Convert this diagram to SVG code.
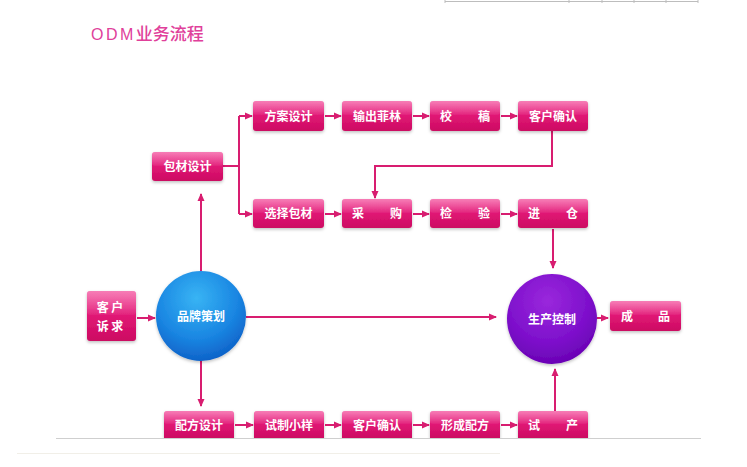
<svg xmlns="http://www.w3.org/2000/svg" width="747" height="467" viewBox="0 0 747 467">
<defs>
<style>
.bx{fill:url(#gBox);filter:url(#sh)}
.hl{fill:url(#gHl)}
.t{font-family:"Noto Sans CJK SC","Liberation Sans",sans-serif;font-size:12px;font-weight:bold;fill:#fff;text-anchor:middle}
.c{fill:none;stroke:#d81d70;stroke-width:2}
.a{marker-end:url(#ar)}
</style>
<linearGradient id="gBox" x1="0" y1="0" x2="0" y2="1">
<stop offset="0" stop-color="#f2378f"/>
<stop offset="0.5" stop-color="#e01674"/>
<stop offset="1" stop-color="#cc0c62"/>
</linearGradient>
<linearGradient id="gHl" x1="0" y1="0" x2="0" y2="1">
<stop offset="0" stop-color="#fff" stop-opacity="0.35"/>
<stop offset="1" stop-color="#fff" stop-opacity="0.05"/>
</linearGradient>
<radialGradient id="gBlue" cx="0.45" cy="0.3" r="0.75">
<stop offset="0" stop-color="#38b4f4"/>
<stop offset="0.6" stop-color="#1a86e2"/>
<stop offset="1" stop-color="#0c5cc4"/>
</radialGradient>
<radialGradient id="gPur" cx="0.45" cy="0.3" r="0.75">
<stop offset="0" stop-color="#9a28dc"/>
<stop offset="0.6" stop-color="#7e10cc"/>
<stop offset="1" stop-color="#6600b0"/>
</radialGradient>
<filter id="sh" x="-20%" y="-20%" width="140%" height="150%">
<feDropShadow dx="0" dy="1.5" stdDeviation="1.5" flood-color="#000" flood-opacity="0.25"/>
</filter>
<marker id="ar" markerWidth="8" markerHeight="8" refX="7" refY="4" orient="auto" markerUnits="userSpaceOnUse">
<path d="M0,0.5 L8,4 L0,7.5 z" fill="#d81d70"/>
</marker>
</defs>
<rect width="747" height="467" fill="#fff"/>
<g id="decor">
<path d="M445,1.5 H698 M445,0 V3 M569,0 V3 M602,0 V3 M634,0 V3 M666,0 V3 M698,0 V3" stroke="#bdbdbd" stroke-width="1" fill="none"/>
<text x="91" y="40" font-family="'Liberation Sans','Noto Sans CJK SC',sans-serif" font-size="16" fill="#e0409a"><tspan letter-spacing="2.5">ODM</tspan><tspan font-family="'Noto Sans CJK SC',sans-serif" font-size="17" font-weight="500">业务流程</tspan></text>
</g>
<g id="connectors">
<path class="c" d="M223,166 H239 M239,116 V214"/>
<path class="c a" d="M239,116 H252"/>
<path class="c a" d="M239,214 H252"/>
<path class="c a" d="M325,116 H341"/>
<path class="c a" d="M413,116 H429"/>
<path class="c a" d="M501,116 H517"/>
<path class="c a" d="M552,131 V166 H375 V198"/>
<path class="c a" d="M325,214 H341"/>
<path class="c a" d="M413,214 H429"/>
<path class="c a" d="M501,214 H517"/>
<path class="c a" d="M553,229 V268"/>
<path class="c a" d="M137,318 H155"/>
<path class="c a" d="M201,271 V194"/>
<path class="c a" d="M201,361 V406"/>
<path class="c a" d="M246,317 H496"/>
<path class="c a" d="M597,318 H608"/>
<path class="c a" d="M235,425 H253"/>
<path class="c a" d="M325,425 H341"/>
<path class="c a" d="M413,425 H429"/>
<path class="c a" d="M501,425 H517"/>
<path class="c a" d="M555,411 V369"/>
</g>
<g id="n-baocai"><rect class="bx" x="152" y="152" width="71" height="29" rx="3"/><rect class="hl" x="152" y="152" width="71" height="14" rx="3"/><text class="t" x="187.5" y="171">包材设计</text></g>
<g id="n-fangan"><rect class="bx" x="253" y="101" width="71" height="30" rx="3"/><rect class="hl" x="253" y="101" width="71" height="14" rx="3"/><text class="t" x="288.5" y="120.5">方案设计</text></g>
<g id="n-feilin"><rect class="bx" x="342" y="101" width="70" height="30" rx="3"/><rect class="hl" x="342" y="101" width="70" height="14" rx="3"/><text class="t" x="377" y="120.5">输出菲林</text></g>
<g id="n-jiaogao"><rect class="bx" x="430" y="101" width="70" height="30" rx="3"/><rect class="hl" x="430" y="101" width="70" height="14" rx="3"/><text class="t" x="446" y="120.5">校</text><text class="t" x="484" y="120.5">稿</text></g>
<g id="n-queren1"><rect class="bx" x="518" y="101" width="70" height="30" rx="3"/><rect class="hl" x="518" y="101" width="70" height="14" rx="3"/><text class="t" x="553" y="120.5">客户确认</text></g>
<g id="n-xuanze"><rect class="bx" x="253" y="199" width="71" height="29" rx="3"/><rect class="hl" x="253" y="199" width="71" height="14" rx="3"/><text class="t" x="288.5" y="218">选择包材</text></g>
<g id="n-caigou"><rect class="bx" x="342" y="199" width="70" height="29" rx="3"/><rect class="hl" x="342" y="199" width="70" height="14" rx="3"/><text class="t" x="358" y="218">采</text><text class="t" x="396" y="218">购</text></g>
<g id="n-jianyan"><rect class="bx" x="430" y="199" width="70" height="29" rx="3"/><rect class="hl" x="430" y="199" width="70" height="14" rx="3"/><text class="t" x="446" y="218">检</text><text class="t" x="484" y="218">验</text></g>
<g id="n-jincang"><rect class="bx" x="518" y="199" width="70" height="29" rx="3"/><rect class="hl" x="518" y="199" width="70" height="14" rx="3"/><text class="t" x="534" y="218">进</text><text class="t" x="572" y="218">仓</text></g>
<g id="n-kehu"><rect class="bx" x="87" y="291" width="49" height="50" rx="3"/><rect class="hl" x="87" y="291" width="49" height="24" rx="3"/><text class="t" x="110" y="312" font-size="13">客 户</text><text class="t" x="110" y="331" font-size="13">诉 求</text></g>
<g id="n-pinpai"><circle cx="201" cy="316" r="45" fill="url(#gBlue)" filter="url(#sh)"/><text class="t" x="201" y="320.5">品牌策划</text></g>
<g id="n-shengchan"><circle cx="552" cy="319" r="45" fill="url(#gPur)" filter="url(#sh)"/><text class="t" x="552" y="323.5">生产控制</text></g>
<g id="n-chengpin"><rect class="bx" x="610" y="301" width="71" height="30" rx="3"/><rect class="hl" x="610" y="301" width="71" height="14" rx="3"/><text class="t" x="627" y="320.5">成</text><text class="t" x="664" y="320.5">品</text></g>
<g id="n-peifang"><path class="bx" d="M164,438 V414 Q164,411 167,411 H231 Q234,411 234,414 V438 Z"/><rect class="hl" x="164" y="411" width="70" height="13" rx="3"/><text class="t" x="199" y="430">配方设计</text></g>
<g id="n-shizhi"><path class="bx" d="M254,438 V414 Q254,411 257,411 H321 Q324,411 324,414 V438 Z"/><rect class="hl" x="254" y="411" width="70" height="13" rx="3"/><text class="t" x="289" y="430">试制小样</text></g>
<g id="n-queren2"><path class="bx" d="M342,438 V414 Q342,411 345,411 H409 Q412,411 412,414 V438 Z"/><rect class="hl" x="342" y="411" width="70" height="13" rx="3"/><text class="t" x="377" y="430">客户确认</text></g>
<g id="n-xingcheng"><path class="bx" d="M430,438 V414 Q430,411 433,411 H497 Q500,411 500,414 V438 Z"/><rect class="hl" x="430" y="411" width="70" height="13" rx="3"/><text class="t" x="465" y="430">形成配方</text></g>
<g id="n-shichan"><path class="bx" d="M518,438 V414 Q518,411 521,411 H585 Q588,411 588,414 V438 Z"/><rect class="hl" x="518" y="411" width="70" height="13" rx="3"/><text class="t" x="534" y="430">试</text><text class="t" x="572" y="430">产</text></g>
<g id="bottom-lines">
<rect x="0" y="439" width="747" height="28" fill="#fff"/>
<line x1="56" y1="438.5" x2="701" y2="438.5" stroke="#cfcfcf" stroke-width="1"/>
<line x1="17" y1="453.5" x2="500" y2="453.5" stroke="#f1efe8" stroke-width="1"/>
</g>
</svg>
